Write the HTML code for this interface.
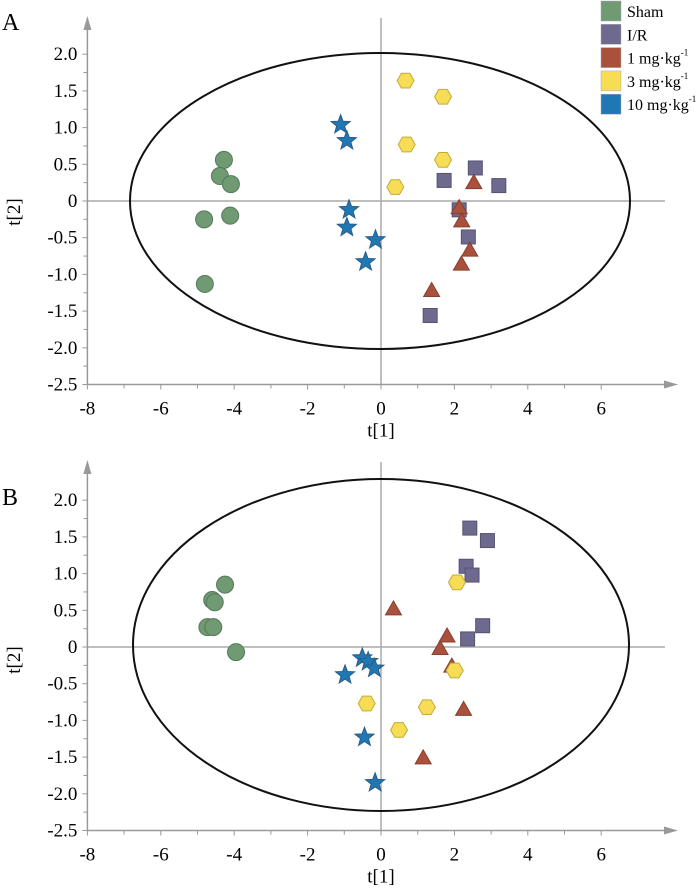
<!DOCTYPE html>
<html><head><meta charset="utf-8"><style>
body{margin:0;background:#fff;}
svg{display:block;}
text{font-family:"Liberation Serif","Times New Roman",serif;}
</style></head><body>
<svg id="chart" width="700" height="889" viewBox="0 0 700 889" font-family="Liberation Serif, serif" xmlns="http://www.w3.org/2000/svg"></svg>
<script>
const xTicks=[-8,-6,-4,-2,0,2,4,6];
const yTicks=[-2.5,-2.0,-1.5,-1.0,-0.5,0,0.5,1.0,1.5,2.0];
const yTickLabels=["-2.5","-2.0","-1.5","-1.0","-0.5","0","0.5","1.0","1.5","2.0"];
const groups=["Sham","I/R","1 mg·kg","3 mg·kg","10 mg·kg"];
const A_shamX=[-4.28,-4.39,-4.09,-4.82,-4.11,-4.80];
const A_shamY=[0.56,0.34,0.23,-0.25,-0.20,-1.13];
const A_irX=[2.57,1.72,3.21,2.13,2.38,1.34];
const A_irY=[0.45,0.28,0.21,-0.12,-0.49,-1.56];
const A_d1X=[2.53,2.13,2.20,2.42,2.19,1.38];
const A_d1Y=[0.25,-0.09,-0.27,-0.67,-0.86,-1.22];
const A_d3X=[0.67,1.69,0.70,1.69,0.39];
const A_d3Y=[1.64,1.42,0.77,0.56,0.19];
const A_d10X=[-1.10,-0.93,-0.87,-0.93,-0.15,-0.42];
const A_d10Y=[1.04,0.82,-0.12,-0.36,-0.53,-0.83];
const B_shamX=[-4.25,-4.60,-4.53,-4.73,-4.57,-3.95];
const B_shamY=[0.85,0.64,0.61,0.27,0.27,-0.07];
const B_irX=[2.42,2.90,2.32,2.48,2.77,2.36];
const B_irY=[1.62,1.45,1.10,0.98,0.29,0.11];
const B_d1X=[0.34,1.80,1.61,1.93,2.25,1.15];
const B_d1Y=[0.52,0.15,-0.02,-0.26,-0.85,-1.51];
const B_d3X=[2.07,2.01,-0.39,1.25,0.49];
const B_d3Y=[0.88,-0.32,-0.77,-0.82,-1.13];
const B_d10X=[-0.51,-0.35,-0.18,-0.98,-0.45,-0.16];
const B_d10Y=[-0.15,-0.20,-0.29,-0.38,-1.23,-1.85];

const NS="http://www.w3.org/2000/svg";
const svg=document.getElementById('chart');
function mk(tag,attrs,parent){const e=document.createElementNS(NS,tag);for(const k in attrs)e.setAttribute(k,attrs[k]);(parent||svg).appendChild(e);return e;}
const colors={sham:["#6f9a72","#55785a"],ir:["#6e6a8f","#56536f"],d1:["#a9513d","#873f2f"],d3:["#f7dc55","#c4aa3a"],d10:["#1f78b4","#2a5d86"]};

function panel(p){
  const sx=36.7, sy=73.4;
  const X=v=>p.x0+v*sx, Y=v=>p.y0-v*sy;
  const g=mk('g',{});
  
  
  const L=mk('text',{x:2,y:p.letterY,'font-size':24},g);L.textContent=p.name;
  
  const ax=X(-8), by=Y(-2.5);
  mk('line',{x1:X(0),y1:p.top,x2:X(0),y2:by,stroke:'#aaa','stroke-width':1.5},g);
  mk('line',{x1:ax,y1:Y(0),x2:665,y2:Y(0),stroke:'#aaa','stroke-width':1.5},g);
  mk('line',{x1:ax,y1:by,x2:668,y2:by,stroke:'#999','stroke-width':1.5},g);
  mk('path',{d:`M678 ${by} L664 ${by-4} L664 ${by+4}Z`,fill:'#999'},g);
  mk('line',{x1:ax,y1:by,x2:ax,y2:p.top+8,stroke:'#999','stroke-width':1.5},g);
  mk('path',{d:`M${ax} ${p.top-2} L${ax-4} ${p.top+12} L${ax+4} ${p.top+12}Z`,fill:'#999'},g);
  xTicks.forEach(t=>{
    mk('line',{x1:X(t),y1:by,x2:X(t),y2:by+5,stroke:'#999'},g);
    if(t<6)mk('line',{x1:X(t+1),y1:by,x2:X(t+1),y2:by+4,stroke:'#999'},g);
    const tx=mk('text',{x:X(t),y:by+30,'font-size':19,'text-anchor':'middle'},g);tx.textContent=t;
    
  });
  yTicks.forEach((t,i)=>{
    mk('line',{x1:ax-5,y1:Y(t),x2:ax,y2:Y(t),stroke:'#999'},g);
    if(t<2)mk('line',{x1:ax-4,y1:Y(t+0.25),x2:ax,y2:Y(t+0.25),stroke:'#999'},g);
    const ty=mk('text',{x:ax-10,y:Y(t)+6,'font-size':19,'text-anchor':'end'},g);ty.textContent=yTickLabels[i];
    
  });
  const xt=mk('text',{x:X(0),y:by+52,'font-size':19,'text-anchor':'middle'},g);xt.textContent='t[1]';
  
  const yt=mk('text',{x:20,y:p.ytY,'font-size':19,'text-anchor':'middle',transform:`rotate(-90 20 ${p.ytY})`},g);yt.textContent='t[2]';
  
  const el=mk('ellipse',{cx:p.ecx,cy:p.ecy,rx:p.erx,ry:p.ery,fill:'none',stroke:'#111','stroke-width':2},g);
  
  const draw=(xs,ys,shape,c,name)=>xs.forEach((v,i)=>{
    const cx=X(v),cy=Y(ys[i]);let m;
    if(shape==='circle')m=mk('circle',{cx,cy,r:8.5},g);
    else if(shape==='square')m=mk('rect',{x:cx-7,y:cy-7,width:14,height:14},g);
    else if(shape==='tri')m=mk('path',{d:`M${cx} ${cy-8} L${cx+8} ${cy+6} L${cx-8} ${cy+6}Z`},g);
    else if(shape==='hex'){let d='';for(let k=0;k<6;k++){const a=Math.PI/3*k;d+=(k?'L':'M')+(cx+8.5*Math.cos(a))+' '+(cy+8.5*Math.sin(a));}m=mk('path',{d:d+'Z'},g);}
    else{let d='';for(let k=0;k<10;k++){const a=-Math.PI/2+Math.PI/5*k,r=k%2?4.2:10;d+=(k?'L':'M')+(cx+r*Math.cos(a))+' '+(cy+r*Math.sin(a));}m=mk('path',{d:d+'Z'},g);}
    m.setAttribute('fill',c[0]);m.setAttribute('stroke',c[1]);m.setAttribute('stroke-width',1);
    
    
  });
  draw(p.d[0],p.d[1],'circle',colors.sham,'sham-point');
  draw(p.d[2],p.d[3],'square',colors.ir,'ir-point');
  draw(p.d[4],p.d[5],'tri',colors.d1,'dose-1-point');
  draw(p.d[6],p.d[7],'hex',colors.d3,'dose-3-point');
  draw(p.d[8],p.d[9],'star',colors.d10,'dose-10-point');
}
panel({name:'A',x0:381,y0:201,top:18,letterY:30,ytY:212,ecx:380,ecy:201,erx:250,ery:148,
  d:[A_shamX,A_shamY,A_irX,A_irY,A_d1X,A_d1Y,A_d3X,A_d3Y,A_d10X,A_d10Y]});
panel({name:'B',x0:381,y0:647,top:462,letterY:505,ytY:660,ecx:381,ecy:645,erx:248,ery:166,
  d:[B_shamX,B_shamY,B_irX,B_irY,B_d1X,B_d1Y,B_d3X,B_d3Y,B_d10X,B_d10Y]});
const lg=mk('g',{});


const lc=[colors.sham,colors.ir,colors.d1,colors.d3,colors.d10];
groups.forEach((n,i)=>{
  const y=1+i*23.3;
  mk('rect',{x:601,y:y,width:20,height:20,fill:lc[i][0],stroke:'#aab','stroke-width':0.5},lg);
  const t=mk('text',{x:627,y:y+16,'font-size':16},lg);
  
  
  t.textContent=n;
  if(i>=2){const s=mk('tspan',{'font-size':9,dy:-8},t);s.textContent='-1';}
});
</script>
</body></html>
